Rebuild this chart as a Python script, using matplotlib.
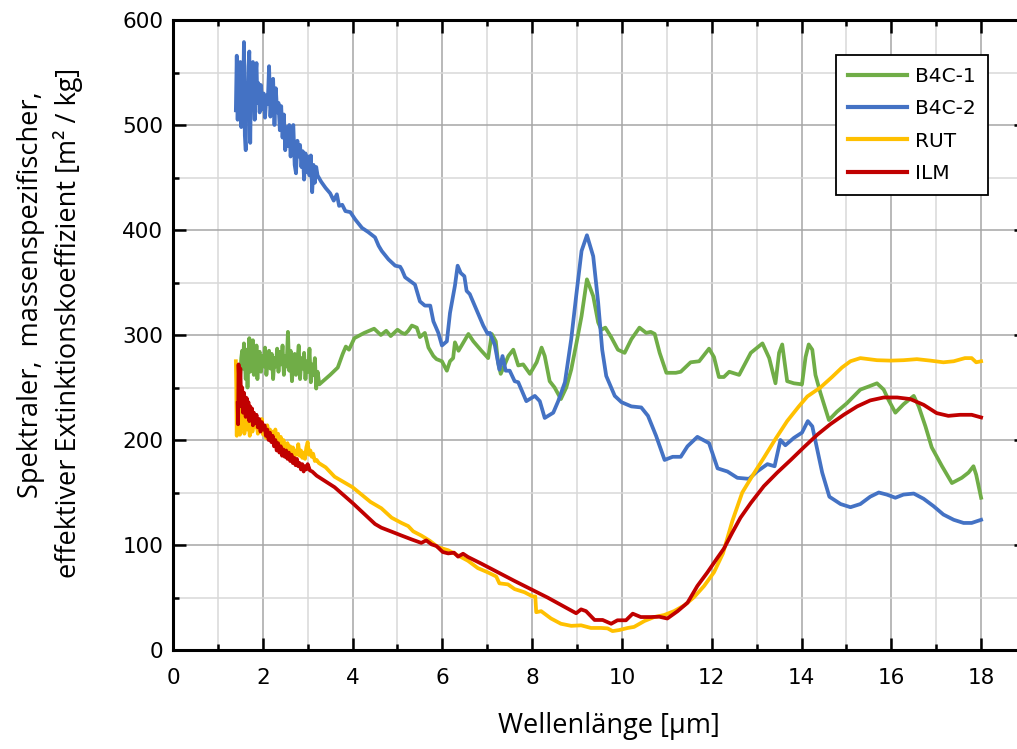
import matplotlib
matplotlib.use("Agg")
import matplotlib.pyplot as plt
from matplotlib.ticker import MultipleLocator

plt.rcParams['font.family'] = ['DejaVu Sans']

# B4C-1 (green)
b4c1_x = [1.50, 1.52, 1.54, 1.56, 1.58, 1.60, 1.62, 1.64, 1.66, 1.68, 1.70, 1.72, 1.74, 1.76, 1.78,
          1.80, 1.82, 1.84, 1.86, 1.88, 1.90, 1.93, 1.96, 1.99, 2.02, 2.05, 2.08, 2.11, 2.14, 2.17,
          2.20, 2.23, 2.26, 2.29, 2.32, 2.35, 2.38, 2.41, 2.44, 2.47, 2.50, 2.53, 2.56, 2.59, 2.62,
          2.65, 2.68, 2.71, 2.74, 2.77, 2.80, 2.83, 2.86, 2.89, 2.92, 2.95, 2.98, 3.01, 3.04, 3.07,
          3.10, 3.13, 3.16, 3.19, 3.22, 3.26,
          3.50, 3.67, 3.78, 3.85, 3.92, 4.04, 4.26, 4.48, 4.63, 4.75, 4.85, 5.00, 5.10, 5.17, 5.24,
          5.32, 5.43, 5.50, 5.61, 5.69, 5.80, 5.87, 5.99, 6.10, 6.17, 6.24, 6.28, 6.36, 6.47, 6.58,
          6.69, 6.87, 7.02, 7.10, 7.19, 7.24, 7.30, 7.39, 7.47, 7.58, 7.69, 7.80, 7.95, 8.10, 8.21,
          8.28, 8.39, 8.50, 8.64, 8.76, 8.87, 8.99, 9.10, 9.22, 9.36, 9.47, 9.54, 9.63, 9.76, 9.91,
          10.06, 10.21, 10.39, 10.54, 10.64, 10.73, 10.84, 10.99, 11.20, 11.31, 11.53, 11.72, 11.94,
          12.05, 12.16, 12.27, 12.39, 12.61, 12.87, 13.13, 13.28, 13.42, 13.50, 13.57, 13.68, 13.83,
          14.01, 14.09, 14.16, 14.24, 14.31, 14.42, 14.61, 14.79, 15.01, 15.31, 15.50, 15.68, 15.83,
          15.94, 16.09, 16.27, 16.50, 16.61, 16.76, 16.90, 17.13, 17.35, 17.57, 17.72, 17.83, 17.89,
          18.00]
b4c1_y = [262, 278, 285, 268, 292, 275, 258, 286, 250, 281, 297, 265, 288, 272, 295,
          262, 283, 270, 290, 258, 278, 284, 265, 280, 270, 288, 262, 276, 285, 268,
          282, 258, 278, 270, 287, 265, 284, 272, 290, 262, 280, 270, 303, 266, 285,
          256, 276, 282, 262, 275, 290, 258, 278, 268, 283, 258, 275, 265, 287, 255,
          272, 262, 278, 249, 265, 253,
          262, 269, 282, 289, 286, 297, 302, 306, 300, 304, 299, 305, 302, 301, 304,
          309, 307, 298, 302, 288, 280, 277, 275, 266, 275, 278, 293, 285, 293, 301,
          294, 285, 278, 301, 294, 274, 263, 272, 280, 286, 271, 272, 263, 274, 288,
          280, 256, 250, 239, 250, 267, 293, 318, 353, 337, 312, 305, 307, 298, 286,
          283, 296, 307, 302, 303, 301, 283, 264, 264, 265, 274, 275, 287,
          279, 260, 260, 265, 262, 283, 292, 278, 254, 283, 291, 256, 254,
          253, 279, 291, 286, 262, 245, 219, 227, 235, 248, 251, 254, 248,
          238, 226, 234, 242, 232, 213, 193, 175, 159, 164, 169, 175, 167,
          145]

# B4C-2 (blue)
b4c2_x = [1.40, 1.42, 1.44, 1.46, 1.48, 1.50, 1.52, 1.54, 1.56, 1.58, 1.60, 1.62, 1.64, 1.66, 1.68,
          1.70, 1.72, 1.74, 1.76, 1.78, 1.80, 1.82, 1.84, 1.86, 1.88, 1.90, 1.93, 1.96, 1.99, 2.02,
          2.05, 2.08, 2.11, 2.14, 2.17, 2.20, 2.23, 2.26, 2.29, 2.32, 2.35, 2.38, 2.41, 2.44, 2.47,
          2.50, 2.53, 2.56, 2.59, 2.62, 2.65, 2.68, 2.71, 2.74, 2.77, 2.80, 2.83, 2.86, 2.89, 2.92,
          2.95, 2.98, 3.01, 3.04, 3.07, 3.10, 3.13, 3.16, 3.19, 3.22,
          3.30, 3.40, 3.50, 3.58, 3.65, 3.70, 3.77, 3.84, 3.95, 4.06, 4.21, 4.35, 4.50, 4.58, 4.65,
          4.80, 4.95, 5.06, 5.10, 5.17, 5.39, 5.50, 5.61, 5.73, 5.80, 5.91, 5.99, 6.10, 6.17, 6.28,
          6.34, 6.41, 6.49, 6.54, 6.61, 6.76, 6.91, 7.01, 7.06, 7.17, 7.27, 7.34, 7.41, 7.50, 7.61,
          7.69, 7.87, 8.06, 8.17, 8.28, 8.47, 8.58, 8.73, 8.87, 8.98, 9.10, 9.22, 9.36, 9.47, 9.56,
          9.65, 9.84, 9.99, 10.21, 10.43, 10.58, 10.76, 10.95, 11.13, 11.31, 11.46, 11.68, 11.94,
          12.13, 12.35, 12.57, 12.83, 13.01, 13.24, 13.40, 13.53, 13.64, 13.83, 14.01, 14.14, 14.24,
          14.35, 14.46, 14.62, 14.87, 15.09, 15.31, 15.53, 15.72, 15.90, 16.09, 16.27, 16.50, 16.72,
          16.94, 17.16, 17.39, 17.61, 17.79, 18.00]
b4c2_y = [514, 566, 505, 548, 520, 560, 498, 535, 512, 579, 490, 476, 540, 518, 556,
          570, 483, 545, 522, 560, 530, 505, 548, 559, 521, 540, 512, 538, 515, 530,
          507, 528, 520, 556, 508, 530, 544, 500, 535, 512, 521, 495, 518, 488, 510,
          476, 498, 480, 500, 470, 492, 500, 462, 454, 485, 470, 481, 460, 475, 448,
          473, 455, 470, 452, 471, 436, 462, 445, 460, 452,
          446, 440, 435, 428, 434, 423, 424, 418, 417, 410, 402, 398, 393, 385, 380,
          372, 366, 365, 362, 355, 348, 332, 328, 328, 313, 302, 290, 294, 321, 347,
          366, 359, 356, 342, 339, 324, 309, 301, 302, 290, 267, 280, 266, 266, 256,
          255, 237, 242, 237, 221, 226, 237, 255, 296, 337, 380, 395, 375, 331, 286,
          261, 242, 236, 232, 231, 223, 204, 181, 184, 184, 194, 203, 197,
          173, 170, 164, 163, 170, 177, 175, 200, 195, 202, 207, 218, 213,
          191, 169, 146, 139, 136, 139, 146, 150, 148, 145, 148, 149, 144,
          137, 129, 124, 121, 121, 124]

# RUT (yellow)
rut_x = [1.40, 1.41, 1.42, 1.43, 1.45, 1.47, 1.49, 1.51, 1.53, 1.55, 1.57, 1.59, 1.61, 1.63, 1.65,
         1.67, 1.69, 1.71, 1.73, 1.75, 1.77, 1.80, 1.83, 1.86, 1.89, 1.92, 1.95, 1.98, 2.01, 2.04,
         2.07, 2.10, 2.13, 2.16, 2.19, 2.22, 2.25, 2.28, 2.31, 2.34, 2.37, 2.40, 2.43, 2.46, 2.49,
         2.52, 2.55, 2.58, 2.61, 2.64, 2.67, 2.70, 2.73, 2.76, 2.79, 2.82, 2.85, 2.88, 2.91, 2.94,
         2.97, 3.00, 3.03, 3.06, 3.09, 3.12, 3.16, 3.20, 3.25,
         3.40, 3.60, 3.80, 4.00, 4.20, 4.40, 4.64, 4.87, 5.09, 5.24, 5.35, 5.53, 5.72, 5.90, 6.13,
         6.35, 6.57, 6.79, 7.01, 7.20, 7.27, 7.46, 7.61, 7.83, 8.01, 8.07, 8.09, 8.20, 8.42, 8.64,
         8.87, 9.09, 9.31, 9.53, 9.68, 9.79, 9.94, 10.13, 10.27, 10.50, 10.72, 10.94, 11.16, 11.39,
         11.61, 11.83, 12.05, 12.25, 12.46, 12.68, 12.90, 13.16, 13.42, 13.68, 13.94, 14.13, 14.42,
         14.68, 14.90, 15.09, 15.31, 15.68, 15.98, 16.27, 16.57, 16.87, 17.16, 17.39, 17.64, 17.79,
         17.89, 18.00]
rut_y = [275, 250, 204, 235, 210, 228, 205, 222, 232, 212, 226, 206, 220, 230, 210,
         224, 215, 204, 226, 218, 208, 222, 212, 218, 206, 216, 210, 220, 205, 212,
         202, 214, 205, 210, 200, 208, 201, 210, 198, 206, 196, 203, 193, 200, 195,
         190, 197, 188, 194, 186, 193, 184, 190, 186, 196, 185, 190, 183, 188, 182,
         193, 198, 186, 190, 184, 187, 180, 181, 178,
         174, 165, 160, 155, 148, 141, 135, 126, 121, 118, 113, 109, 104, 98, 95,
         90, 85, 78, 74, 70, 63.5, 62.5, 58, 55, 51, 51, 36, 37, 30, 25,
         23, 23.5, 21, 21, 20.6, 18, 19, 21, 22, 27.6, 31.4, 33.3, 37, 42.5,
         50.5, 61, 74, 92, 123, 150, 165.5, 183, 201, 218, 232, 241.5, 250,
         260, 269, 275, 278, 276, 275.6, 276, 277, 275.6, 274, 275, 278, 278,
         274, 275]

# ILM (red)
ilm_x = [1.44, 1.45, 1.46, 1.47, 1.48, 1.50, 1.52, 1.54, 1.56, 1.58, 1.60, 1.62, 1.64, 1.66, 1.68,
         1.70, 1.72, 1.74, 1.76, 1.78, 1.80, 1.83, 1.86, 1.89, 1.92, 1.95, 1.98, 2.01, 2.04, 2.07,
         2.10, 2.13, 2.16, 2.19, 2.22, 2.25, 2.28, 2.31, 2.34, 2.37, 2.40, 2.43, 2.46, 2.49, 2.52,
         2.55, 2.58, 2.61, 2.64, 2.67, 2.70, 2.73, 2.76, 2.79, 2.82, 2.85, 2.88, 2.91, 2.94, 2.97,
         3.00, 3.05, 3.10, 3.15, 3.20,
         3.60, 4.00, 4.30, 4.50, 4.64, 4.87, 5.09, 5.31, 5.53, 5.64, 5.76, 5.87, 6.01, 6.13, 6.26,
         6.35, 6.46, 6.57, 6.87, 7.61, 8.35, 8.98, 9.09, 9.20, 9.39, 9.57, 9.76, 9.90, 10.09, 10.24,
         10.42, 10.64, 10.83, 11.01, 11.24, 11.46, 11.68, 11.90, 12.13, 12.27, 12.46, 12.64, 12.87,
         13.16, 13.46, 13.76, 14.05, 14.35, 14.64, 14.94, 15.24, 15.53, 15.83, 16.13, 16.42, 16.72,
         17.01, 17.27, 17.53, 17.79, 18.00]
ilm_y = [235, 215, 272, 260, 245, 268, 232, 250, 226, 245, 238, 222, 240, 228, 236,
         218, 232, 220, 230, 214, 226, 216, 224, 212, 220, 208, 217, 210, 214, 204,
         210, 200, 207, 198, 204, 194, 200, 190, 197, 188, 194, 185, 191, 184, 190,
         182, 188, 180, 186, 178, 183, 176, 182, 175, 178, 172, 177, 170, 175, 172,
         177, 171, 170, 168, 166,
         155, 140, 128, 120, 116.5, 112.7, 109, 105.4, 102, 104.4, 100.6, 99, 93.3, 92, 92.7,
         88.9, 91.7, 88.6, 82.2, 65.7, 49.8, 35, 38.7, 37, 28.6, 28.6, 25, 28.3, 28.3, 34.6,
         31.4, 31.4, 31.7, 30, 37, 45, 61, 73.7, 88, 96.5, 112, 126, 140,
         156, 169, 181, 193, 205, 215, 224, 232, 237.7, 240.5, 240.5, 239, 233.5,
         225.6, 223, 224, 224, 221.5]

fig = plt.figure(figsize=(10.17, 7.49), dpi=100)
ax = fig.add_axes([173 / 1017, 99 / 749, 853 / 1017, 630 / 749])

lw = 2.7
ax.plot(b4c1_x, b4c1_y, color='#70AD47', lw=lw, label='B4C-1', solid_joinstyle='round')
ax.plot(b4c2_x, b4c2_y, color='#4472C4', lw=lw, label='B4C-2', solid_joinstyle='round')
ax.plot(rut_x, rut_y, color='#FFC000', lw=lw, label='RUT', solid_joinstyle='round')
ax.plot(ilm_x, ilm_y, color='#C00000', lw=lw, label='ILM', solid_joinstyle='round')

ax.set_xlim(0, 19)
ax.set_ylim(0, 600)
ax.xaxis.set_major_locator(MultipleLocator(2))
ax.xaxis.set_minor_locator(MultipleLocator(1))
ax.yaxis.set_major_locator(MultipleLocator(100))
ax.yaxis.set_minor_locator(MultipleLocator(50))

ax.set_axisbelow(True)
ax.grid(which='major', color='#a6a6a6', lw=1.1)
ax.grid(which='minor', color='#d9d9d9', lw=1.1)

for sp in ax.spines.values():
    sp.set_linewidth(2.2)
    sp.set_color('black')

ax.tick_params(which='both', direction='in', top=True, right=True, width=1.8, colors='black')
ax.tick_params(which='major', length=9, labelsize=15.5)
ax.tick_params(which='minor', length=4.5)
ax.tick_params(axis='x', pad=13)
ax.tick_params(axis='y', pad=7)

leg = ax.legend(loc='upper left', bbox_to_anchor=(0.777, 0.944), borderaxespad=0,
                fancybox=False, framealpha=1, edgecolor='black', fontsize=14.5,
                handlelength=2.95, handletextpad=0.4, labelspacing=0.65, borderpad=0.6)
leg.get_frame().set_linewidth(1.3)
for h in leg.get_lines():
    h.set_linewidth(3)

fig.text(609 / 1017, 1 - 726 / 749, 'Wellenlänge [µm]', family='Open Sans', fontsize=19.5,
         ha='center', va='center')
fig.text(31 / 1017, 1 - 295 / 749, 'Spektraler,  massenspezifischer,', family='Open Sans',
         fontsize=19.5, rotation=90, ha='center', va='center')
fig.text(68 / 1017, 1 - 323 / 749, 'effektiver Extinktionskoeffizient [m² / kg]',
         family='Open Sans', fontsize=19.5, rotation=90, ha='center', va='center')

fig.savefig('out.png', dpi=100)
